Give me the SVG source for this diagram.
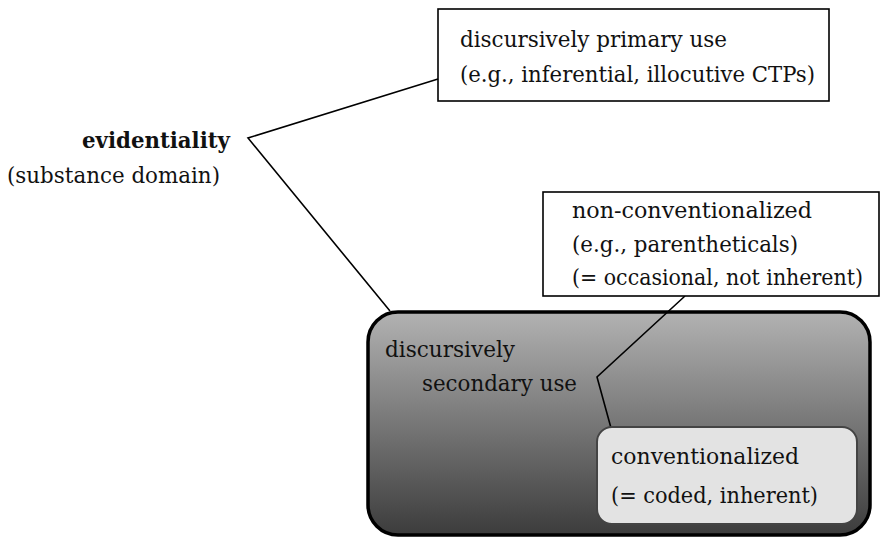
<svg xmlns="http://www.w3.org/2000/svg" width="882" height="537" viewBox="0 0 882 537">
<style>
text { font-family: "DejaVu Serif Condensed", "DejaVu Serif", "Liberation Serif", serif; font-stretch: condensed; font-size: 22px; fill: #111; }
.b { font-weight: bold; }
.box { fill: #fff; stroke: #000; stroke-width: 1.6; }
.conn { fill: none; stroke: #000; stroke-width: 1.6; }
</style>
<defs>
<linearGradient id="g" x1="0" y1="0" x2="0" y2="1">
<stop offset="0" stop-color="#b2b2b2"/>
<stop offset="1" stop-color="#3c3c3c"/>
</linearGradient>
</defs>
<g id="evidentiality">
<text class="b" x="230" y="148" text-anchor="end" textLength="148" lengthAdjust="spacingAndGlyphs">evidentiality</text>
<text x="7" y="183" textLength="213" lengthAdjust="spacingAndGlyphs">(substance domain)</text>
</g>
<g id="primary">
<rect class="box" x="438" y="9" width="391" height="92"/>
<text x="460" y="47" textLength="267" lengthAdjust="spacingAndGlyphs">discursively primary use</text>
<text x="460" y="82" textLength="355" lengthAdjust="spacingAndGlyphs">(e.g., inferential, illocutive CTPs)</text>
</g>
<g id="secondary">
<rect x="368" y="312" width="502" height="223" rx="30" fill="url(#g)" stroke="#000" stroke-width="3.5"/>
<text x="385" y="357" textLength="130" lengthAdjust="spacingAndGlyphs">discursively</text>
<text x="422" y="391" textLength="155" lengthAdjust="spacingAndGlyphs">secondary use</text>
</g>
<g id="connectors">
<polyline class="conn" points="438,79 248,138 390,311"/>
<polyline class="conn" points="685,296 597,377 611,428"/>
</g>
<g id="nonconventionalized">
<rect class="box" x="543" y="192" width="336" height="104"/>
<text x="572" y="218" textLength="240" lengthAdjust="spacingAndGlyphs">non-conventionalized</text>
<text x="572" y="252" textLength="226" lengthAdjust="spacingAndGlyphs">(e.g., parentheticals)</text>
<text x="572" y="285" textLength="291" lengthAdjust="spacingAndGlyphs">(= occasional, not inherent)</text>
</g>
<g id="conventionalized">
<rect x="597" y="427" width="260" height="97" rx="15" fill="#e3e3e3" stroke="#444" stroke-width="2"/>
<text x="611" y="464" textLength="188" lengthAdjust="spacingAndGlyphs">conventionalized</text>
<text x="611" y="503" textLength="207" lengthAdjust="spacingAndGlyphs">(= coded, inherent)</text>
</g>
</svg>
